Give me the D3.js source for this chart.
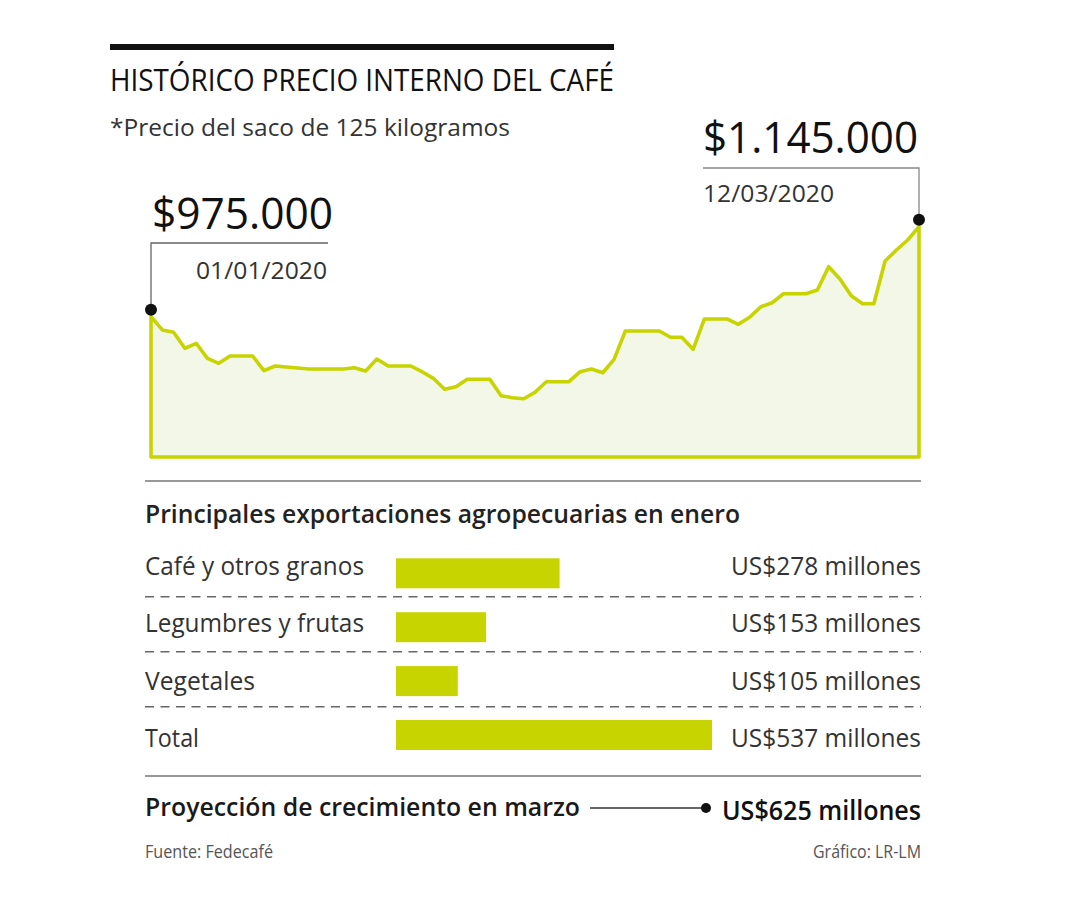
<!DOCTYPE html>
<html><head><meta charset="utf-8">
<script src="https://cdn.jsdelivr.net/npm/d3@7/dist/d3.min.js"></script>
<style>body{margin:0;background:#fff}svg{display:block}</style>
</head><body>
<svg id="c" width="1080" height="900"></svg>
<script>
// ---- data ----
const prices = [975000, 950000, 945500, 915300, 924800, 896400, 887000, 900800, 900800, 900800,
  873000, 881900, 880000, 878000, 876200, 876200, 876200, 876200, 878700, 872400,
  895100, 881900, 881900, 881900, 871100, 858600, 837900, 842800, 856800, 856800,
  856800, 825800, 822000, 820100, 832200, 852200, 852200, 852200, 871100, 876200,
  869200, 894500, 948000, 948000, 948000, 948000, 936100, 936100, 913400, 970700,
  970700, 970700, 960600, 973900, 993900, 1001400, 1018400, 1018400, 1018400, 1025400,
  1069400, 1046200, 1014700, 999600, 999600, 1080200, 1101000, 1119900, 1145000];
const startLabel = ["$975.000", "01/01/2020"];
const endLabel = ["$1.145.000", "12/03/2020"];
const categories = ["Café y otros granos", "Legumbres y frutas", "Vegetales", "Total"];
const exportValues = [278, 153, 105, 537];
const valueLabels = ["US$278 millones", "US$153 millones", "US$105 millones", "US$537 millones"];
const projection = ["Proyección de crecimiento en marzo", "US$625 millones"];
const titleText = "HISTÓRICO PRECIO INTERNO DEL CAFÉ";
const subtitleText = "*Precio del saco de 125 kilogramos";
const barTitle = "Principales exportaciones agropecuarias en enero";
const sourceText = "Fuente: Fedecafé";
const creditText = "Gráfico: LR-LM";

// ---- drawing ----
const svg = d3.select("#c");
const FONT = "'Open Sans', 'Noto Sans', sans-serif";
const LIME = "#c8d400";

function txt(str, x, y, size, opts = {}) {
  const t = svg.append("text")
    .attr("x", x).attr("y", y)
    .attr("font-family", FONT)
    .attr("font-size", size)
    .attr("font-weight", opts.weight || 400)
    .attr("fill", opts.fill || "#222")
    .attr("text-anchor", opts.anchor || "start")
    .text(str);
  if (opts.width) {
    const w = t.node().getComputedTextLength();
    if (Math.abs(w - opts.width) > 1) {
      t.attr("textLength", opts.width).attr("lengthAdjust", "spacingAndGlyphs");
    }
  }
  return t;
}

// header
svg.append("rect").attr("x", 110).attr("y", 44).attr("width", 504).attr("height", 6).attr("fill", "#111");
txt(titleText, 110, 91, 31, {width: 504, fill: "#111"});
txt(subtitleText, 110, 136, 24, {width: 400, fill: "#333"});

// line/area chart
const x = d3.scaleLinear().domain([0, prices.length - 1]).range([151, 919]);
const y = d3.scaleLinear().domain([710000, 1145000]).range([457, 226.7]);

const area = d3.area()
  .x((d, i) => x(i))
  .y0(y(710000))
  .y1(d => y(d));

svg.append("path").datum(prices)
  .attr("d", area)
  .attr("fill", "#f2f7e7")
  .attr("stroke", LIME)
  .attr("stroke-width", 3.6)
  .attr("stroke-linejoin", "round");

// annotations
const x0 = x(0), y0 = y(prices[0]) - 7;
const x1 = x(prices.length - 1), y1 = y(prices[prices.length - 1]) - 7;

svg.append("path")
  .attr("d", `M${x0},${y0}V243H328`)
  .attr("fill", "none").attr("stroke", "#666").attr("stroke-width", 1.3);
svg.append("path")
  .attr("d", `M${x1},${y1}V168H703`)
  .attr("fill", "none").attr("stroke", "#888").attr("stroke-width", 1.3);
svg.append("circle").attr("cx", x0).attr("cy", y0).attr("r", 6).attr("fill", "#111");
svg.append("circle").attr("cx", x1).attr("cy", y1).attr("r", 6).attr("fill", "#111");

txt(startLabel[0], 152, 229, 43, {width: 181, fill: "#111"});
txt(startLabel[1], 327, 279, 24, {width: 131, fill: "#333", anchor: "end"});
txt(endLabel[0], 703, 153, 43, {width: 215, fill: "#111"});
txt(endLabel[1], 703, 202, 24, {width: 131, fill: "#333"});

// separator
svg.append("line").attr("x1", 145).attr("x2", 921).attr("y1", 481).attr("y2", 481)
  .attr("stroke", "#999").attr("stroke-width", 2);

txt(barTitle, 145, 523, 25, {width: 595, weight: 600, fill: "#222"});

// bar chart
const xb = d3.scaleLinear().domain([0, 537]).range([0, 316]);
const rowBar = d3.scalePoint().domain(categories).range([573.3, 735]);
const rowText = d3.scalePoint().domain(categories).range([575, 747]);
const labelWidths = [219, 219, 110, 54];

categories.forEach((c, i) => {
  svg.append("rect")
    .attr("x", 396)
    .attr("y", rowBar(c) - 15)
    .attr("width", xb(exportValues[i]))
    .attr("height", 30)
    .attr("fill", LIME);
  txt(c, 145, rowText(c), 26, {width: labelWidths[i], fill: "#333"});
  txt(valueLabels[i], 921, rowText(c), 26, {width: 190, fill: "#333", anchor: "end"});
});

// dashed separators
[596.7, 651.7, 706.7].forEach(yy => {
  svg.append("line").attr("x1", 145).attr("x2", 921).attr("y1", yy).attr("y2", yy)
    .attr("stroke", "#666").attr("stroke-width", 1.4).attr("stroke-dasharray", "9,6.5");
});

svg.append("line").attr("x1", 145).attr("x2", 921).attr("y1", 776).attr("y2", 776)
  .attr("stroke", "#999").attr("stroke-width", 2);

// projection
txt(projection[0], 145, 816, 26, {width: 435, weight: 600, fill: "#1a1a1a"});
svg.append("line").attr("x1", 590).attr("x2", 704).attr("y1", 808).attr("y2", 808)
  .attr("stroke", "#333").attr("stroke-width", 1.3);
svg.append("circle").attr("cx", 706).attr("cy", 808).attr("r", 5).attr("fill", "#111");
txt(projection[1], 921, 820, 27, {width: 199, weight: 600, fill: "#111", anchor: "end"});

// footer
txt(sourceText, 145, 858, 18, {width: 128, fill: "#555"});
txt(creditText, 921, 858, 18, {width: 108, fill: "#555", anchor: "end"});
</script>
</body></html>
